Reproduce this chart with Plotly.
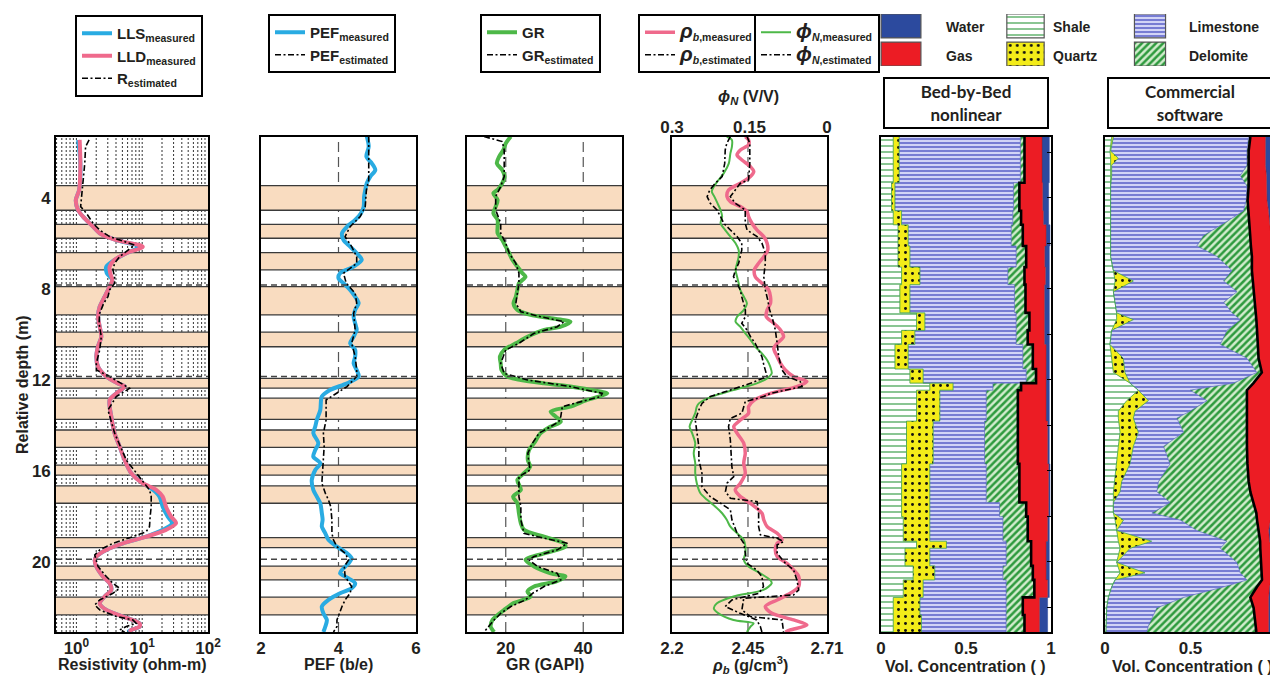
import plotly.graph_objects as go

W, H = 1278, 681
OFF = 8                      # page body margin of the rendered html
FW, FH = W - OFF, H - OFF    # figure size so that the figure fills the window
TOP_D, BOT_D = 1.32, 23.08

# ---------------- beds (depth, m) ----------------
band_top = [3.46, 5.16, 6.40, 7.90, 9.90, 11.93, 12.80, 14.20, 15.74, 16.66, 18.93, 20.18, 21.55]
band_bottom = [4.54, 5.77, 7.16, 9.14, 10.54, 12.36, 13.73, 14.96, 16.18, 17.42, 19.37, 20.79, 22.33]
marker_depths = [7.83, 11.85, 19.88]

# ---------------- resistivity (ohm-m) ----------------
res_depth = [1.45, 2.48, 3.65, 4.09, 4.53, 4.82, 5.26, 5.55, 5.85, 6.14, 6.43, 6.72, 7.02, 7.31, 7.60, 7.90,
             8.34, 8.78, 9.22, 9.66, 10.10, 10.53, 10.97, 11.41, 11.85, 12.15, 12.29, 12.59, 12.88, 13.61,
             14.34, 14.93, 15.52, 16.10, 16.54, 16.83, 17.13, 17.57, 18.01, 18.30, 18.59, 18.89, 19.18,
             19.47, 19.76, 19.91, 20.20, 20.64, 20.94, 21.23, 21.52, 21.82, 22.11, 22.40, 22.70, 22.84,
             22.99, 23.08]
lls_measured = [1.06, 1.15, 1.10, 0.98, 1.06, 1.26, 1.79, 2.26, 4.04, 9.12, 5.73, 3.81, 2.85, 2.90, 3.52, 3.20,
                2.69, 2.26, 2.13, 2.26, 2.39, 2.13, 2.01, 2.13, 2.85, 4.28, 5.41, 4.04, 3.20, 3.39, 3.81, 4.54,
                5.41, 6.82, 10.2, 14.5, 18.3, 20.5, 24.5, 28.5, 20.5, 11.5, 5.10, 2.85, 2.01, 1.90, 2.01, 2.53,
                3.20, 3.39, 2.69, 2.26, 2.85, 5.10, 9.12, 9.12, 6.82, 6.07]
lld_measured = [1.12, 1.15, 1.10, 0.98, 1.06, 1.26, 1.79, 2.26, 4.04, 10.2, 5.73, 3.81, 3.20, 3.27, 3.52, 3.20,
                2.69, 2.26, 2.13, 2.26, 2.39, 2.13, 2.01, 2.13, 2.85, 4.28, 5.41, 4.04, 3.20, 3.39, 3.81, 4.54,
                5.41, 6.82, 10.2, 16.3, 20.5, 23.0, 27.5, 32.7, 23.0, 11.5, 5.10, 2.85, 2.01, 1.90, 2.01, 2.53,
                3.20, 3.39, 2.69, 2.26, 2.85, 5.10, 9.12, 9.12, 6.82, 6.43]
rest_depth = [1.45, 1.74, 2.48, 3.21, 3.94, 4.38, 4.67, 5.11, 5.41, 5.70, 6.07, 6.58, 6.87, 7.16, 7.46, 7.75,
              8.04, 8.34, 8.63, 9.07, 9.51, 10.10, 10.68, 11.27, 11.56, 11.85, 12.37, 12.73, 13.32, 14.34,
              15.52, 16.25, 16.54, 16.83, 17.13, 17.57, 18.01, 18.45, 18.67, 18.89, 19.18, 19.47, 19.69,
              19.91, 20.20, 20.64, 20.94, 21.16, 21.38, 21.67, 21.89, 22.11, 22.40, 22.55, 22.70, 22.84,
              22.99, 23.08]
r_estimated = [1.56, 1.38, 1.34, 1.26, 1.19, 1.16, 1.42, 1.79, 2.26, 3.20, 7.66, 4.54, 3.81, 3.59, 3.81, 3.81,
               3.20, 3.02, 2.60, 2.26, 2.21, 2.39, 2.26, 2.01, 2.01, 3.20, 6.43, 4.04, 3.02, 3.81, 5.73, 9.12,
               10.8, 12.9, 13.7, 13.7, 13.2, 12.9, 11.5, 7.23, 3.59, 2.26, 1.90, 2.01, 2.13, 2.85, 3.59, 4.54,
               3.59, 2.26, 1.90, 2.26, 4.04, 7.23, 8.12, 5.73, 4.54, 5.41]

# ---------------- PEF (b/e) ----------------
pef_depth = [1.30, 1.74, 2.18, 2.48, 2.77, 3.06, 3.35, 3.65, 3.94, 4.38, 4.67, 4.97, 5.26, 5.55, 5.85, 6.14,
             6.43, 6.72, 7.02, 7.31, 7.53, 7.75, 8.04, 8.34, 8.63, 8.92, 9.22, 9.51, 9.80, 10.10, 10.39,
             10.68, 10.97, 11.27, 11.56, 11.85, 12.15, 12.44, 12.73, 13.32, 13.76, 14.05, 14.34, 14.78,
             15.08, 15.37, 15.66, 15.96, 16.40, 16.83, 17.13, 17.42, 17.86, 18.15, 18.45, 18.74, 19.03,
             19.33, 19.62, 19.84, 20.06, 20.35, 20.50, 20.72, 20.94, 21.16, 21.38, 21.67, 21.96, 22.26,
             22.55, 22.84, 23.08]
pef_measured = [4.73, 4.78, 4.72, 4.86, 4.95, 4.82, 4.73, 4.69, 4.66, 4.65, 4.58, 4.43, 4.22, 4.09, 4.13, 4.30,
                4.47, 4.60, 4.39, 4.04, 4.00, 4.13, 4.30, 4.43, 4.52, 4.43, 4.39, 4.43, 4.47, 4.39, 4.30,
                4.43, 4.43, 4.39, 4.47, 4.52, 4.22, 3.78, 3.57, 3.53, 3.44, 3.40, 3.35, 3.48, 3.40, 3.35,
                3.53, 3.40, 3.31, 3.35, 3.44, 3.53, 3.57, 3.59, 3.57, 3.66, 3.74, 3.96, 4.22, 4.34, 4.26,
                4.09, 4.04, 4.26, 4.43, 4.34, 4.04, 3.74, 3.57, 3.61, 3.70, 3.66, 3.61]
pefe_depth = [1.30, 2.18, 3.21, 3.65, 4.38, 4.82, 5.26, 5.70, 6.14, 6.58, 6.87, 7.31, 7.75, 8.19, 8.63, 9.07,
              9.80, 10.39, 10.97, 11.56, 11.85, 12.29, 12.59, 12.88, 13.76, 14.34, 14.93, 15.52, 16.10,
              16.54, 16.98, 17.27, 17.57, 18.15, 18.74, 19.03, 19.33, 19.62, 19.91, 20.20, 20.64, 21.08,
              21.38, 21.67, 21.96, 22.26, 22.55, 22.84, 23.08]
pef_estimated = [4.78, 4.78, 4.78, 4.72, 4.69, 4.56, 4.30, 4.17, 4.34, 4.47, 4.47, 4.13, 4.20, 4.43, 4.47, 4.39,
                 4.43, 4.34, 4.43, 4.47, 4.47, 4.22, 3.96, 3.68, 3.68, 3.61, 3.63, 3.61, 3.59, 3.57, 3.66,
                 3.74, 3.80, 3.83, 3.83, 3.87, 3.96, 4.17, 4.26, 4.15, 4.17, 4.34, 4.30, 4.17, 4.09, 4.03,
                 3.96, 3.96, 3.87]

# ---------------- GR (GAPI) ----------------
gr_depth = [1.30, 1.60, 1.89, 2.18, 2.48, 2.77, 3.06, 3.35, 3.65, 3.79, 4.09, 4.38, 4.67, 4.97, 5.26, 5.55,
            5.85, 6.14, 6.43, 6.72, 7.02, 7.31, 7.46, 7.75, 8.04, 8.34, 8.63, 8.92, 9.14, 9.29, 9.44, 9.66,
            9.80, 10.10, 10.39, 10.68, 10.97, 11.27, 11.56, 11.85, 12.00, 12.15, 12.29, 12.44, 12.59, 12.73,
            12.88, 13.17, 13.39, 13.61, 13.83, 14.05, 14.34, 14.78, 15.08, 15.52, 15.81, 16.10, 16.40,
            16.83, 17.13, 17.42, 17.86, 18.30, 18.59, 18.89, 19.18, 19.33, 19.62, 19.91, 20.20, 20.50,
            20.64, 20.86, 21.08, 21.30, 21.52, 21.82, 22.11, 22.55, 22.84, 23.08]
gr_measured = [21.3, 20.0, 19.4, 18.3, 17.7, 19.1, 19.7, 19.1, 17.9, 16.8, 17.9, 17.4, 16.8, 17.9, 17.9, 17.9,
               19.1, 20.0, 20.9, 21.7, 23.0, 24.3, 25.1, 23.4, 23.0, 22.6, 22.0, 23.0, 26.4, 31.6, 36.7, 34.2,
               29.9, 25.6, 22.6, 19.6, 18.5, 18.7, 18.9, 20.4, 23.9, 29.9, 36.7, 41.9, 46.2, 44.0, 41.0, 36.7,
               31.6, 32.9, 34.2, 31.6, 29.0, 27.3, 26.0, 25.7, 26.3, 24.7, 23.0, 23.9, 21.9, 23.0, 23.4, 23.9,
               24.7, 29.9, 35.0, 35.4, 29.9, 25.1, 27.3, 31.6, 35.4, 32.9, 27.3, 25.6, 26.4, 21.9, 19.6, 16.6,
               16.1, 17.0]
gre_depth = [1.30, 1.52, 1.89, 2.48, 3.06, 3.50, 3.94, 4.53, 5.11, 5.55, 5.99, 6.43, 6.87, 7.31, 7.75, 8.19,
             8.63, 9.00, 9.22, 9.44, 9.66, 9.95, 10.39, 10.68, 11.27, 11.71, 12.00, 12.29, 12.59, 12.73, 13.03,
             13.17, 13.61, 13.83, 14.05, 14.34, 14.78, 15.22, 15.66, 15.96, 16.25, 16.69, 17.13, 17.57, 18.15,
             18.74, 18.89, 19.18, 19.47, 19.76, 19.91, 20.20, 20.50, 20.79, 21.08, 21.38, 21.67, 21.96, 22.26,
             22.55, 22.84, 23.08]
gr_estimated = [14.4, 19.1, 19.6, 19.6, 19.6, 18.7, 17.4, 17.4, 18.7, 18.7, 20.0, 20.9, 22.6, 23.4, 23.4, 23.0,
                22.6, 23.9, 29.0, 35.0, 33.3, 27.3, 23.4, 20.0, 18.7, 19.6, 25.6, 36.7, 44.9, 44.5, 37.6,
                34.6, 34.2, 33.7, 31.6, 28.6, 26.9, 25.7, 26.0, 26.3, 23.4, 23.4, 23.4, 23.9, 23.9, 24.7,
                28.2, 35.9, 33.3, 27.3, 26.0, 28.2, 33.3, 34.2, 29.9, 26.9, 25.1, 21.3, 18.7, 17.0, 15.7, 14.4]

# ---------------- bulk density (g/cm3) and neutron porosity (V/V) ----------------
rhob_depth = [1.30, 1.45, 1.67, 1.89, 2.11, 2.33, 2.62, 2.84, 3.06, 3.35, 3.65, 3.94, 4.16, 4.38, 4.60, 4.82,
              5.11, 5.41, 5.70, 5.99, 6.29, 6.58, 6.87, 7.16, 7.46, 7.75, 8.04, 8.34, 8.63, 8.92, 9.22, 9.51,
              9.80, 10.10, 10.39, 10.61, 10.97, 11.27, 11.56, 11.85, 12.07, 12.29, 12.59, 12.88, 13.17, 13.46,
              13.76, 14.05, 14.34, 14.78, 15.22, 15.66, 16.10, 16.54, 16.83, 17.13, 17.42, 17.86, 18.15,
              18.45, 18.74, 19.03, 19.18, 19.47, 19.76, 20.06, 20.35, 20.64, 21.08, 21.38, 21.67, 21.96,
              22.26, 22.55, 22.77, 22.99, 23.08]
rhob_measured = [2.441, 2.452, 2.452, 2.425, 2.414, 2.430, 2.458, 2.469, 2.458, 2.425, 2.386, 2.381, 2.392,
                 2.425, 2.447, 2.452, 2.463, 2.480, 2.502, 2.513, 2.515, 2.502, 2.485, 2.471, 2.474, 2.496,
                 2.518, 2.524, 2.524, 2.513, 2.510, 2.535, 2.557, 2.567, 2.546, 2.535, 2.546, 2.557, 2.573,
                 2.600, 2.644, 2.611, 2.524, 2.471, 2.452, 2.452, 2.425, 2.403, 2.414, 2.436, 2.441, 2.436,
                 2.441, 2.425, 2.408, 2.425, 2.458, 2.496, 2.502, 2.513, 2.546, 2.562, 2.546, 2.540, 2.546,
                 2.578, 2.600, 2.617, 2.617, 2.589, 2.546, 2.507, 2.529, 2.600, 2.644, 2.589, 2.573]
rhobe_depth = [1.30, 1.60, 2.48, 3.21, 3.35, 3.94, 4.23, 4.53, 5.11, 5.41, 5.70, 5.99, 6.43, 6.87, 7.46, 8.04,
               8.48, 8.92, 9.22, 9.80, 10.39, 10.97, 11.56, 11.85, 12.07, 12.29, 12.59, 12.73, 12.95, 13.17,
               13.46, 13.69, 14.05, 14.64, 15.22, 15.81, 16.25, 16.54, 16.91, 17.20, 17.35, 17.86, 18.45,
               18.81, 18.96, 19.11, 19.25, 19.62, 20.06, 20.35, 20.79, 21.23, 21.45, 21.60, 22.11, 22.40,
               22.55, 23.08]
rhob_estimated = [2.447, 2.456, 2.456, 2.452, 2.425, 2.392, 2.408, 2.441, 2.441, 2.447, 2.480, 2.496, 2.507,
                  2.507, 2.502, 2.507, 2.515, 2.521, 2.529, 2.540, 2.546, 2.551, 2.562, 2.578, 2.622, 2.628,
                  2.524, 2.502, 2.441, 2.436, 2.430, 2.392, 2.386, 2.392, 2.394, 2.397, 2.403, 2.381, 2.376,
                  2.392, 2.480, 2.485, 2.485, 2.491, 2.546, 2.567, 2.546, 2.546, 2.573, 2.600, 2.611, 2.617,
                  2.600, 2.436, 2.430, 2.458, 2.562, 2.567]
phin_depth = [1.30, 1.45, 1.74, 2.04, 2.48, 2.92, 3.21, 3.50, 3.72, 3.94, 4.23, 4.53, 4.82, 5.11, 5.41, 5.70,
              5.99, 6.29, 6.58, 6.87, 7.16, 7.46, 7.75, 8.04, 8.34, 8.63, 8.92, 9.22, 9.44, 9.66, 9.95, 10.24,
              10.53, 10.83, 11.12, 11.41, 11.71, 11.93, 12.15, 12.44, 12.73, 13.03, 13.17, 13.46, 13.76, 14.05,
              14.34, 14.78, 15.22, 15.66, 16.10, 16.54, 16.98, 17.27, 17.57, 17.86, 18.15, 18.45, 18.74,
              19.03, 19.33, 19.62, 19.91, 20.20, 20.50, 20.79, 20.94, 21.23, 21.52, 21.82, 22.04, 22.26,
              22.55, 22.70, 22.84, 23.08]
phin_measured = [0.194, 0.184, 0.184, 0.187, 0.190, 0.200, 0.210, 0.219, 0.223, 0.218, 0.212, 0.206, 0.203,
                 0.206, 0.197, 0.187, 0.177, 0.171, 0.171, 0.174, 0.177, 0.174, 0.171, 0.168, 0.161, 0.155,
                 0.161, 0.174, 0.177, 0.168, 0.158, 0.148, 0.139, 0.126, 0.116, 0.110, 0.107, 0.116, 0.136,
                 0.181, 0.223, 0.248, 0.252, 0.255, 0.261, 0.266, 0.261, 0.255, 0.258, 0.255, 0.255, 0.252,
                 0.245, 0.232, 0.216, 0.203, 0.194, 0.187, 0.174, 0.161, 0.158, 0.158, 0.161, 0.152, 0.129,
                 0.110, 0.107, 0.123, 0.181, 0.213, 0.219, 0.210, 0.181, 0.142, 0.148, 0.155]
phine_depth = [1.30, 1.60, 1.89, 2.48, 3.06, 3.35, 3.65, 3.94, 4.23, 4.53, 4.82, 5.11, 5.41, 5.70, 5.99, 6.29,
               6.58, 6.87, 7.16, 7.46, 7.75, 8.04, 8.34, 8.63, 8.92, 9.22, 9.51, 9.80, 10.10, 10.39, 10.68,
               10.97, 11.27, 11.56, 11.85, 12.15, 12.44, 12.73, 13.03, 13.32, 13.76, 14.34, 14.93, 15.52,
               16.10, 16.69, 17.13, 17.42, 17.71, 18.15, 18.74, 19.18, 19.62, 20.06, 20.35, 20.64, 21.08,
               21.38, 21.67, 21.96, 22.26, 22.55, 22.84, 23.08]
phin_estimated = [0.187, 0.194, 0.197, 0.198, 0.203, 0.216, 0.227, 0.232, 0.226, 0.213, 0.206, 0.200, 0.187,
                  0.174, 0.165, 0.165, 0.168, 0.171, 0.177, 0.181, 0.174, 0.168, 0.165, 0.161, 0.158, 0.158,
                  0.165, 0.155, 0.148, 0.139, 0.132, 0.126, 0.123, 0.119, 0.116, 0.148, 0.187, 0.226, 0.242,
                  0.248, 0.255, 0.252, 0.248, 0.248, 0.242, 0.242, 0.226, 0.206, 0.187, 0.184, 0.174, 0.161,
                  0.158, 0.155, 0.136, 0.126, 0.123, 0.132, 0.184, 0.197, 0.168, 0.136, 0.129, 0.126]

# ---------------- volumetric concentrations: Bed-by-Bed nonlinear ----------------
bbb_top = [1.32, 3.33, 4.56, 5.18, 6.11, 7.04, 7.81, 9.05, 9.82, 10.44, 11.52, 12.14, 12.45, 13.81, 15.69,
           17.39, 18.01, 19.09, 19.40, 20.17, 20.79, 21.56, 22.33]
bbb_shale = [.072, .062, .072, .100, .100, .121, .111, .209, .121, .082, .170, .287, .209, .150, .121, .121,
             .131, .209, .141, .189, .131, .072, .072]
bbb_quartz = [.035, .020, .049, .060, .070, .108, .059, .049, .078, .078, .078, .137, .137, .157, .166, .166,
              .156, .176, .146, .127, .117, .157, .166]
bbb_limestone = [.713, .697, .654, .606, .625, .517, .615, .537, .596, .674, .606, .234, .273, .302, .332,
                 .410, .430, .351, .449, .401, .488, .507, .498]
bbb_dolomite = [.024, .035, .049, .068, .059, .098, .065, .078, .068, .059, .058, .166, .186, .196, .195,
                .157, .146, .147, .147, .176, .166, .098, .108]
bbb_gas = [.103, .137, .131, .137, .109, .123, .111, .088, .098, .078, .059, .147, .166, .175, .172, .132,
           .117, .088, .088, .078, .078, .098, .088]
bbb_water = [.043, .035, .031, .023, .027, .023, .029, .029, .029, .019, .019, .019, .019, .010, .008, .008,
             .010, .019, .019, .019, .010, .048, .048]

# ---------------- volumetric concentrations: Commercial software ----------------
cs_depth = [1.32, 1.94, 2.25, 2.56, 3.02, 3.48, 4.10, 4.56, 5.03, 5.65, 6.11, 6.57, 7.19, 7.65, 8.12, 8.58,
            9.05, 9.35, 9.82, 10.44, 11.05, 11.67, 12.14, 12.45, 12.91, 13.37, 13.68, 14.30, 14.92, 15.69,
            16.46, 16.92, 17.39, 17.85, 18.16, 18.62, 19.09, 19.40, 20.02, 20.48, 20.79, 21.10, 21.56, 22.02,
            22.80, 23.08]
cs_shale = [.039, .029, .033, .033, .033, .033, .033, .033, .033, .029, .029, .033, .049, .059, .049, .059,
            .068, .068, .039, .029, .039, .049, .146, .195, .127, .078, .078, .088, .078, .068, .059, .049,
            .049, .049, .059, .068, .078, .088, .068, .088, .059, .039, .020, .010, .006, .006]
cs_quartz = [.010, .004, .045, .006, .006, 0, 0, 0, 0, 0, 0, 0, 0, .107, 0, 0, 0, .098, 0, 0, .068, .068, 0,
             0, .127, .098, .088, .107, .088, .078, .039, .039, 0, 0, .049, 0, .195, .059, 0, .146, 0, 0, 0,
             0, 0, 0]
cs_limestone = [.791, .797, .752, .791, .752, .797, .793, .777, .680, .547, .508, .621, .693, .527, .723,
                .635, .674, .625, .674, .645, .723, .771, .605, .303, .342, .322, .254, .264, .176, .234,
                .215, .215, .332, .225, .332, .469, .439, .527, .703, .557, .771, .654, .439, .293, .248, .238]
cs_dolomite = [.010, .010, .010, .010, .049, .010, .008, .029, .133, .273, .316, .205, .117, .172, .098, .180,
               .137, .094, .176, .219, .068, .029, .117, .332, .234, .328, .406, .371, .488, .453, .527,
               .547, .488, .611, .449, .361, .195, .234, .141, .127, .088, .195, .391, .566, .625, .641]
cs_gas = [.088, .098, .098, .098, .104, .107, .113, .117, .117, .121, .123, .117, .117, .111, .109, .107, .104,
          .098, .096, .094, .088, .072, .123, .162, .162, .166, .166, .166, .166, .162, .156, .146, .123, .098,
          .078, .059, .055, .068, .064, .053, .053, .074, .107, .088, .078, .072]
cs_water = [.061, .061, .061, .061, .055, .051, .051, .041, .035, .027, .021, .021, .021, .021, .020, .018,
            .016, .016, .014, .012, .012, .008, .006, .006, .006, .006, .006, .002, .002, .002, .002, .002,
            .006, .016, .031, .041, .035, .021, .021, .027, .027, .035, .041, .041, .041, .041]

# ---------------- ticks / grid ----------------
depth_ticks = [4, 8, 12, 16, 20]
vol_depth_ticks = [2, 4, 6, 8, 10, 12, 14, 16, 18, 20, 22]
res_ticks = [1, 10, 100]
res_ticktext = ["10<sup>0</sup>", "10<sup>1</sup>", "10<sup>2</sup>"]
res_grid = [0.5, 0.6, 0.7, 0.8, 0.9, 1, 2, 3, 4, 5, 6, 7, 8, 9, 10, 20, 30, 40, 50, 60, 70, 80, 90]
pef_ticks = [2, 4, 6]
pef_grid = [4]
gr_ticks = [20, 40]
gr_grid = [20, 40]
rhob_ticks = [2.2, 2.45, 2.71]
rhob_grid = [2.45]
phin_ticks = [0.3, 0.15, 0]
vol_ticks = [0, 0.5, 1]
materials = ["Water", "Gas", "Shale", "Quartz", "Limestone", "Delomite"]

# ---------------- styles ----------------
FONT = "Liberation Sans, Arial, sans-serif"
TXT = "#231F20"
BAND = "#F9DCC0"
BLUE = "#29ABE2"
PINK = "#EF6A8C"
GREEN = "#4DB848"
DASHDOT = "6px,2.5px,2px,2.5px"

MAT_STYLE = {
    "Shale": dict(bg="#FFFFFF", fg="#3AA04A", shape="-", size=6, solidity=0.2, edge="#3AA04A", ew=0.8),
    "Quartz": dict(bg="#F3EC19", fg="#111111", shape=".", size=7, solidity=0.14, edge="#3AA04A", ew=0.8),
    "Limestone": dict(bg="#D2D4F6", fg="#5A60C8", shape="-", size=4, solidity=0.38, edge="#4B52C2", ew=0.6),
    "Delomite": dict(bg="#D2ECCD", fg="#2E9A3E", shape="/", size=5, solidity=0.5, edge="#000000", ew=2.6),
    "Gas": dict(bg="#EC1C24", fg=None, shape="", size=6, solidity=0.3, edge="#B01015", ew=0.5),
    "Water": dict(bg="#2C4A9E", fg=None, shape="", size=6, solidity=0.3, edge="#2C4A9E", ew=0.5),
}


def pxx(p):
    return (p - OFF) / FW


def pxy(p):
    return 1 - (p - OFF) / FH


fig = go.Figure()


def add_line(x, y, name, color, width, xa, ya, legend, dash="solid", shape="spline"):
    line = dict(color=color, width=width, dash=dash, shape=shape)
    if shape == "spline":
        line["smoothing"] = 0.8
    fig.add_trace(go.Scatter(x=x, y=y, mode="lines", name=name, line=line, xaxis=xa, yaxis=ya,
                             legend=legend, hoverinfo="skip"))


# panel 1: resistivity
add_line(lls_measured, res_depth, "LLS<sub>measured</sub>", BLUE, 4, "x", "y", "legend")
add_line(lld_measured, res_depth, "LLD<sub>measured</sub>", PINK, 4, "x", "y", "legend")
add_line(r_estimated, rest_depth, "R<sub>estimated</sub>", "black", 1.6, "x", "y", "legend", DASHDOT, "linear")
# panel 2: PEF
add_line(pef_measured, pef_depth, "PEF<sub>measured</sub>", BLUE, 4, "x2", "y2", "legend2")
add_line(pef_estimated, pefe_depth, "PEF<sub>estimated</sub>", "black", 1.6, "x2", "y2", "legend2", DASHDOT,
         "linear")
# panel 3: GR
add_line(gr_measured, gr_depth, "GR", GREEN, 4, "x3", "y3", "legend3")
add_line(gr_estimated, gre_depth, "GR<sub>estimated</sub>", "black", 1.6, "x3", "y3", "legend3", DASHDOT, "linear")
# panel 4: density / neutron
RHO = "<span style='font-size:21px'><i>ρ</i></span>"
PHI = "<span style='font-size:21px'><i>ϕ</i></span>"
add_line(rhob_measured, rhob_depth, RHO + "<sub><i>b</i>,measured</sub>", PINK, 3.5, "x4", "y4", "legend4")
add_line(rhob_estimated, rhobe_depth, RHO + "<sub><i>b</i>,estimated</sub>", "black", 1.6, "x4", "y4", "legend4",
         DASHDOT, "linear")
add_line(phin_measured, phin_depth, PHI + "<sub><i>N</i>,measured</sub>", GREEN, 2, "x7", "y4", "legend5")
add_line(phin_estimated, phine_depth, PHI + "<sub><i>N</i>,estimated</sub>", "black", 1.6, "x7", "y4", "legend5",
         DASHDOT, "linear")


def add_stack(depth, comps, xa, ya, shape, extend):
    y = list(depth) + ([BOT_D] if extend else [])
    cum = [0.0] * len(comps[0][1])
    for i, (name, vals) in enumerate(comps):
        cum = [c + v for c, v in zip(cum, vals)]
        x = cum + ([cum[-1]] if extend else [])
        st = MAT_STYLE[name]
        kw = dict(fillcolor=st["bg"])
        if st["fg"]:
            kw["fillpattern"] = dict(shape=st["shape"], fgcolor=st["fg"], bgcolor=st["bg"], size=st["size"],
                                     solidity=st["solidity"])
        fig.add_trace(go.Scatter(x=x, y=y, mode="lines", line=dict(color=st["edge"], width=st["ew"], shape=shape),
                                 fill="tozerox" if i == 0 else "tonextx", xaxis=xa, yaxis=ya, showlegend=False,
                                 hoverinfo="skip", **kw))


add_stack(bbb_top, [("Shale", bbb_shale), ("Quartz", bbb_quartz), ("Limestone", bbb_limestone),
                    ("Delomite", bbb_dolomite), ("Gas", bbb_gas), ("Water", bbb_water)], "x5", "y5", "vh", True)
add_stack(cs_depth, [("Shale", cs_shale), ("Quartz", cs_quartz), ("Limestone", cs_limestone),
                     ("Delomite", cs_dolomite), ("Gas", cs_gas), ("Water", cs_water)], "x6", "y6", "linear", False)

# material legend swatches (bars on a hidden helper axis)
swatch_pos = {"Water": (0, 1), "Gas": (0, 0), "Shale": (1, 1), "Quartz": (1, 0), "Limestone": (2, 1),
              "Delomite": (2, 0)}
swatch_w = {"Water": 0.32, "Gas": 0.32, "Shale": 0.30, "Quartz": 0.30, "Limestone": 0.25, "Delomite": 0.25}
for name in materials:
    col, row = swatch_pos[name]
    st = MAT_STYLE[name]
    marker = dict(color=st["bg"], line=dict(color="#555555", width=1.2))
    if st["fg"]:
        marker["pattern"] = dict(shape=st["shape"], fgcolor=st["fg"], bgcolor=st["bg"], size=st["size"],
                                 solidity=st["solidity"])
    fig.add_trace(go.Bar(x=[col], y=[0.92], base=[1.08 * row], width=swatch_w[name], marker=marker,
                         xaxis="x8", yaxis="y8", showlegend=False, hoverinfo="skip"))

# ---------------- layout ----------------
px_dom = [(56, 208), (261, 416), (467, 622), (672, 827), (881, 1051), (1105, 1276)]
ydom = [pxy(632), pxy(137)]
tickfont = dict(family=FONT, size=17, color=TXT, weight="bold")


def xax(i, **kw):
    d = dict(domain=[pxx(px_dom[i][0]), pxx(px_dom[i][1])], anchor="y" if i == 0 else f"y{i + 1}",
             showline=True, linecolor="black", linewidth=1.6, mirror=True, ticks="", zeroline=False,
             showgrid=False, tickfont=tickfont, automargin=False, fixedrange=True)
    d.update(kw)
    return d


def yax(i, **kw):
    d = dict(domain=ydom, anchor="x" if i == 0 else f"x{i + 1}", range=[BOT_D, TOP_D], autorange=False,
             showline=True, linecolor="black", linewidth=1.6, mirror=True, ticks="", zeroline=False,
             showgrid=False, showticklabels=False, tickfont=tickfont, automargin=False)
    d.update(kw)
    return d


layout = dict(
    width=FW, height=FH, margin=dict(l=0, r=0, t=0, b=0), paper_bgcolor="white", plot_bgcolor="white",
    template="none", barmode="overlay", showlegend=True,
    xaxis=xax(0, type="log", range=[-0.31, 2.0], tickvals=res_ticks, ticktext=res_ticktext),
    xaxis2=xax(1, range=[2, 6], tickvals=pef_ticks, ticktext=[str(v) for v in pef_ticks]),
    xaxis3=xax(2, range=[10, 50], tickvals=gr_ticks, ticktext=[str(v) for v in gr_ticks]),
    xaxis4=xax(3, range=[2.2, 2.71], tickvals=rhob_ticks, ticktext=["2.2", "2.45", "2.71"]),
    xaxis5=xax(4, range=[0, 1], tickvals=vol_ticks, ticktext=["0", "0.5", "1"]),
    xaxis6=xax(5, range=[0, 1], tickvals=vol_ticks, ticktext=["0", "0.5", "1"]),
    xaxis7=dict(overlaying="x4", anchor="y4", side="top", range=[0.3, 0], tickvals=phin_ticks,
                ticktext=["0.3", "0.15", "0"], showline=False, showgrid=False, zeroline=False, ticks="",
                tickfont=tickfont, automargin=False),
    xaxis8=dict(domain=[pxx(838.75), pxx(1212.25)], anchor="y8", range=[-0.5, 2.5], visible=False),
    yaxis=yax(0, showticklabels=True, tickvals=depth_ticks, ticktext=[str(v) for v in depth_ticks]),
    yaxis2=yax(1), yaxis3=yax(2), yaxis4=yax(3),
    yaxis5=yax(4, side="right", ticks="inside", ticklen=4, tickcolor="black", tickvals=vol_depth_ticks),
    yaxis6=yax(5, side="right", ticks="inside", ticklen=4, tickcolor="black", tickvals=vol_depth_ticks),
    yaxis8=dict(domain=[pxy(66), pxy(14)], anchor="x8", range=[0, 2], visible=False),
)

legfont = dict(family=FONT, size=15, color=TXT, weight="bold")
for key, (lx, ly) in {"legend": (75, 15), "legend2": (268, 14), "legend3": (480, 14), "legend4": (638, 14),
                      "legend5": (754, 14)}.items():
    layout[key] = dict(x=pxx(lx), y=pxy(ly), xanchor="left", yanchor="top", bgcolor="white",
                       bordercolor="black", borderwidth=2, font=legfont, tracegroupgap=0, itemwidth=30,
                       traceorder="normal")
fig.update_layout(**layout)

# shapes (all in the 'below' layer, drawn in order): grid, beds, bed boundaries; marker lines above
shapes = []
panel_grid = [("", res_grid, dict(color="#333333", width=1, dash="2px,2px")),
              ("2", pef_grid, dict(color="#555555", width=1.2, dash="10px,5px")),
              ("3", gr_grid, dict(color="#555555", width=1.2, dash="10px,5px")),
              ("4", rhob_grid, dict(color="#555555", width=1.2, dash="10px,5px"))]
for pid, gvals, gline in panel_grid:
    for v in gvals:
        shapes.append(dict(type="line", xref=f"x{pid}", yref=f"y{pid} domain", x0=v, x1=v, y0=0, y1=1,
                           line=gline, layer="below"))
    for t, b in zip(band_top, band_bottom):
        shapes.append(dict(type="rect", xref=f"x{pid} domain", yref=f"y{pid}", x0=0, x1=1, y0=t, y1=b,
                           fillcolor=BAND, line=dict(width=0), layer="below"))
    for d in band_top + band_bottom:
        shapes.append(dict(type="line", xref=f"x{pid} domain", yref=f"y{pid}", x0=0, x1=1, y0=d, y1=d,
                           line=dict(color="#3A3A3A", width=1.3), layer="below"))
    for d in marker_depths:
        shapes.append(dict(type="line", xref=f"x{pid} domain", yref=f"y{pid}", x0=0, x1=1, y0=d, y1=d,
                           line=dict(color="#444444", width=1.5, dash="6px,4px"), layer="above"))
fig.update_layout(shapes=shapes)

# annotations
ann = []
title_font = dict(family=FONT, size=16, color=TXT, weight="bold")
for text, cx, cy in [("Resistivity (ohm-m)", 132, 664), ("PEF (b/e)", 338, 664), ("GR (GAPI)", 545, 664),
                     ("<i>ρ</i><sub><i>b</i></sub> (g/cm<sup>3</sup>)", 750, 665),
                     ("Vol. Concentration ( )", 966, 666), ("Vol. Concentration ( )", 1192, 666),
                     ("<i>ϕ</i><sub><i>N</i></sub> (V/V)", 748, 98)]:
    ann.append(dict(text=text, x=pxx(cx), y=pxy(cy), xref="paper", yref="paper", showarrow=False,
                    xanchor="center", yanchor="middle", font=title_font))
ann.append(dict(text="Relative depth (m)", x=pxx(22), y=pxy(385), xref="paper", yref="paper", showarrow=False,
                textangle=-90, xanchor="center", yanchor="middle", font=title_font))
box_font = dict(family="Lato, Open Sans, sans-serif", size=17, color=TXT, weight="bold")
for text, cx in [("Bed-by-Bed<br>nonlinear", 965.5), ("Commercial<br>software", 1190)]:
    ann.append(dict(text=text, x=pxx(cx), y=pxy(103), xref="paper", yref="paper", showarrow=False,
                    xanchor="center", yanchor="middle", font=box_font, bordercolor="black", borderwidth=2,
                    bgcolor="white", width=160, height=46))
lab_font = dict(family=FONT, size=14, color=TXT, weight="bold")
label_x = {0: 944, 1: 1051, 2: 1187}
for name in materials:
    col, row = swatch_pos[name]
    ann.append(dict(text=name, x=pxx(label_x[col]), y=pxy(27 if row == 1 else 56), xref="paper",
                    yref="paper", showarrow=False, xanchor="left", yanchor="middle", font=lab_font))
fig.update_layout(annotations=ann)

fig.write_html("out.html")
